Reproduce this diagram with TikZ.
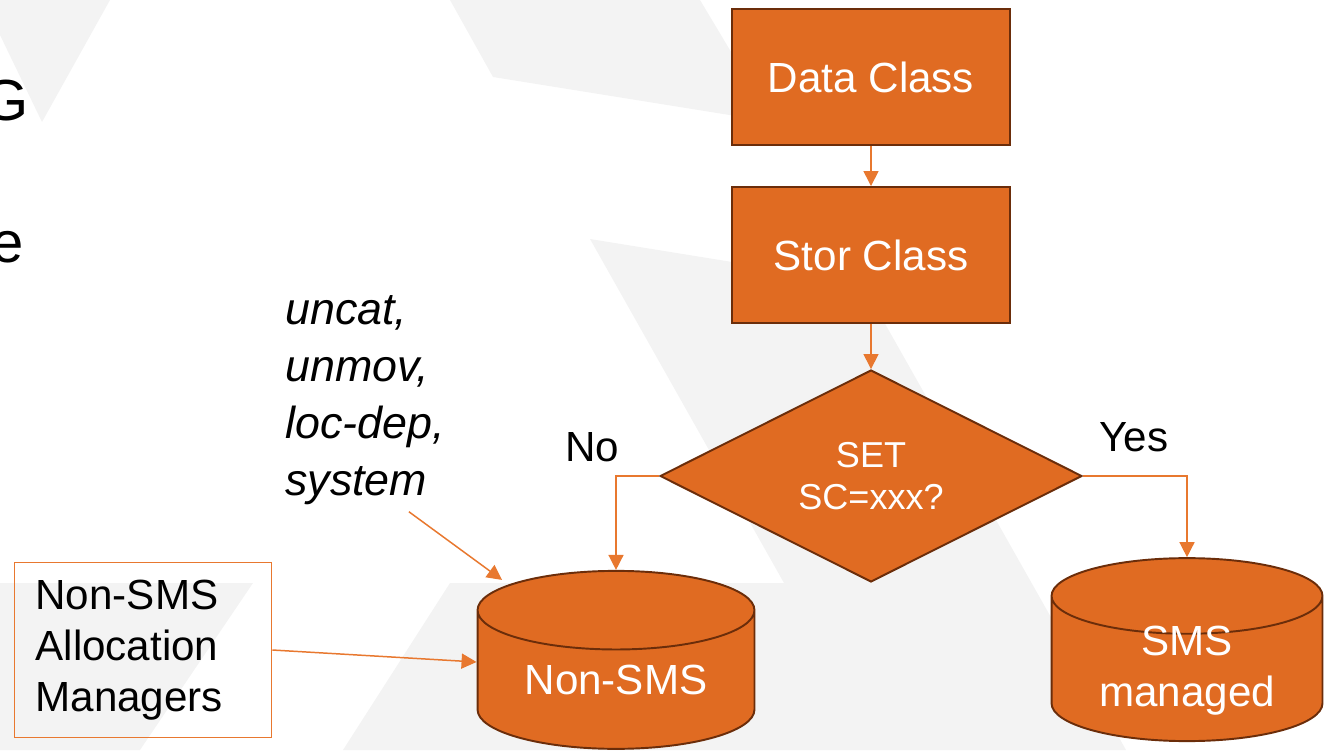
\documentclass[tikz,border=0pt]{standalone}
\usepackage{fontspec}
\setmainfont{Liberation Sans}
\usetikzlibrary{arrows.meta,shapes.geometric}

\definecolor{boxorange}{HTML}{E06B22}
\definecolor{boxedge}{HTML}{6B2D0A}
\definecolor{lineorange}{HTML}{E8782F}
\definecolor{bgshade}{HTML}{F3F3F3}

\begin{document}
\begin{tikzpicture}[x=0.02cm,y=-0.02cm,
  box/.style={draw=boxedge,line width=1.1pt,fill=boxorange,text=white,
              minimum width=5.56cm,minimum height=2.72cm,
              font=\fontsize{24}{29}\selectfont},
  decision/.style={diamond,draw=boxedge,line width=1.1pt,fill=boxorange,
              text=white,minimum width=8.44cm,minimum height=4.24cm,
              inner sep=0pt,align=center,font=\fontsize{20.5}{23.5}\selectfont},
  store/.style={cylinder,shape border rotate=90,aspect=0.43,draw=boxedge,
              line width=1.1pt,fill=boxorange,text=white,
              inner sep=0pt,font=\fontsize{24}{29}\selectfont},
  arr/.style={-{Triangle[width=0.3cm,length=0.3cm]},draw=lineorange,line width=0.85pt},
  lbl/.style={font=\fontsize{24}{29}\selectfont}]

  \useasboundingbox (0,0) rectangle (1324,750);

  % faint backdrop
  \fill[bgshade] (0,0) -- (110,0) -- (42,122) -- (0,35) -- cycle;
  \fill[bgshade] (450,0) -- (700,0) -- (773,122) -- (493,77) -- cycle;
  \fill[bgshade] (590,239) -- (862,283) -- (1126,750) -- (343,750)
                 -- (450,583) -- (784,583) -- cycle;
  \fill[bgshade] (0,583) -- (253,583) -- (140,750) -- (0,750) -- cycle;

  % cut-off text at the left edge
  \node[font=\fontsize{33}{40}\selectfont,anchor=base east] (tG) at (35,120) {G};
  \node[font=\fontsize{33}{40}\selectfont,anchor=base east] (te) at (30,262) {e};

  \node[box] (data) at (871,77)  {Data Class};
  \node[box] (stor) at (871,255) {Stor Class};
  \node[decision] (test) at (871,476) {SET\\SC=xxx?};

  \node[store,minimum width=5.54cm,minimum height=3.56cm] (nonsms) at (616,680) {Non-SMS};
  \node[store,minimum width=5.42cm,minimum height=3.66cm] (sms) at (1187,669)
        {\smash{\raisebox{-0.26cm}{\begin{tabular}{@{}c@{}}SMS\\managed\end{tabular}}}};

  \node[draw=lineorange,line width=1pt,minimum width=5.14cm,minimum height=3.5cm,
        text width=4.3cm,align=left,font=\fontsize{24}{29}\selectfont]
        (mgr) at (143,650) {Non-SMS\\Allocation\\Managers};

  \node[align=left,anchor=west,font=\fontsize{25.5}{32.4}\selectfont\itshape]
        (attrs) at (279,400) {uncat,\\unmov,\\loc-dep,\\system};

  \node[lbl] (no)  at (592,447)  {No};
  \node[lbl] (yes) at (1134,437) {Yes};

  \draw[arr] (data) -- (stor);
  \draw[arr] (stor) -- (test);
  \draw[arr] (test.west) -| (nonsms.north);
  \draw[arr] (test.east) -| (sms.north);
  \draw[arr] ([xshift=0.88cm,yshift=-0.02cm]attrs.south) -- ([shift={(-2.28cm,-0.2cm)}]nonsms.north);
  \draw[arr] (mgr.east) -- ([yshift=0.36cm]nonsms.west);

\end{tikzpicture}
\end{document}
